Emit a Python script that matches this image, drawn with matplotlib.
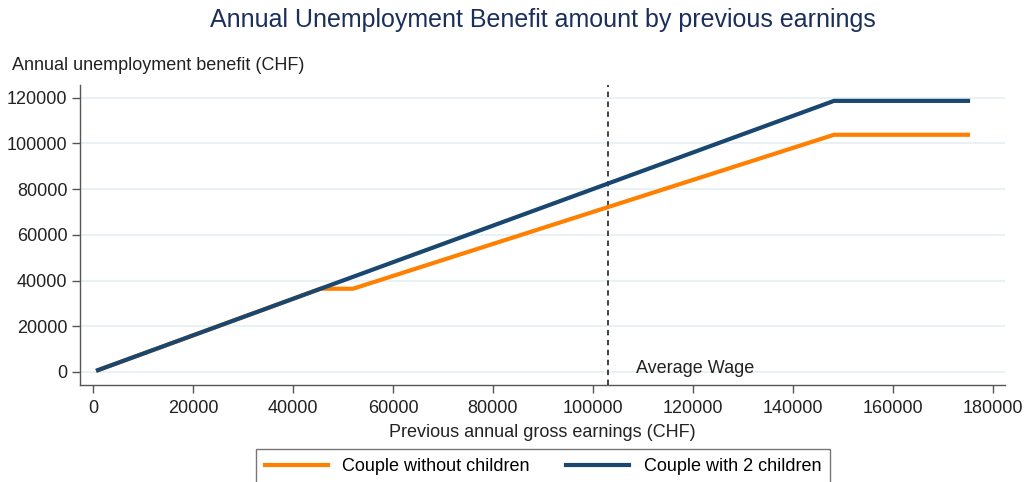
import matplotlib
matplotlib.use("Agg")
import matplotlib.pyplot as plt

plt.rcParams['font.family'] = ['Liberation Sans', 'DejaVu Sans']

# Data
earn_no_kids = [1000, 45500, 52000, 148200, 175000]
ben_no_kids = [800, 36400, 36400, 103740, 103740]
earn_2_kids = [1000, 148200, 175000]
ben_2_kids = [800, 118560, 118560]
avg_wage = 103000
x_ticks = [0, 20000, 40000, 60000, 80000, 100000, 120000, 140000, 160000, 180000]
y_ticks = [0, 20000, 40000, 60000, 80000, 100000, 120000]

orange = '#ff8000'
navy = '#1a476f'

fig = plt.figure(figsize=(10.27, 4.82), dpi=100)
ax = fig.add_axes([80/1027, 1 - 385/482, (1005-80)/1027, (385-85)/482])

ax.plot(earn_no_kids, ben_no_kids, color=orange, lw=3, label='Couple without children', solid_joinstyle='miter', zorder=3)
ax.plot(earn_2_kids, ben_2_kids, color=navy, lw=3, label='Couple with 2 children', solid_joinstyle='miter', zorder=4)
ax.axvline(avg_wage, color='#333333', ls=(0, (3, 2.5)), lw=1.3, zorder=2)
ax.text(avg_wage + 5500, 1500, 'Average Wage', fontsize=13, color='#222222', ha='left', va='center')

ax.set_xlim(-2600, 182400)
ax.set_ylim(-5700, 125500)
ax.set_xticks(x_ticks)
ax.set_yticks(y_ticks)
ax.set_xticklabels([str(v) for v in x_ticks])
ax.set_yticklabels([str(v) for v in y_ticks])
ax.tick_params(axis='both', labelsize=13, colors='#222222', length=6, width=1, direction='out')
ax.tick_params(axis='x', pad=5)
ax.tick_params(axis='y', pad=3)
ax.tick_params(axis='both', color='#555555')
ax.grid(axis='y', color='#e6eff2', lw=1.2, zorder=0)
ax.set_axisbelow(True)
for s in ['top', 'right']:
    ax.spines[s].set_visible(False)
for s in ['left', 'bottom']:
    ax.spines[s].set_color('#555555')
    ax.spines[s].set_linewidth(1)

ax.set_xlabel('Previous annual gross earnings (CHF)', fontsize=13, color='#222222', labelpad=5)
fig.text(12/1027, 1 - 65/482, 'Annual unemployment benefit (CHF)', fontsize=13, color='#222222', ha='left', va='center')
fig.text(543/1027, 1 - 20/482, 'Annual Unemployment Benefit amount by previous earnings', fontsize=18, color='#1a2f5a', ha='center', va='center')

leg = fig.legend(loc='lower center', bbox_to_anchor=(543/1027, -11/482), ncol=2, fontsize=13,
                 frameon=True, fancybox=False, edgecolor='#555555', handlelength=3.5, columnspacing=2.0,
                 borderpad=0.5, handletextpad=0.8)
leg.get_frame().set_linewidth(1)

fig.savefig('out.png', dpi=100)
